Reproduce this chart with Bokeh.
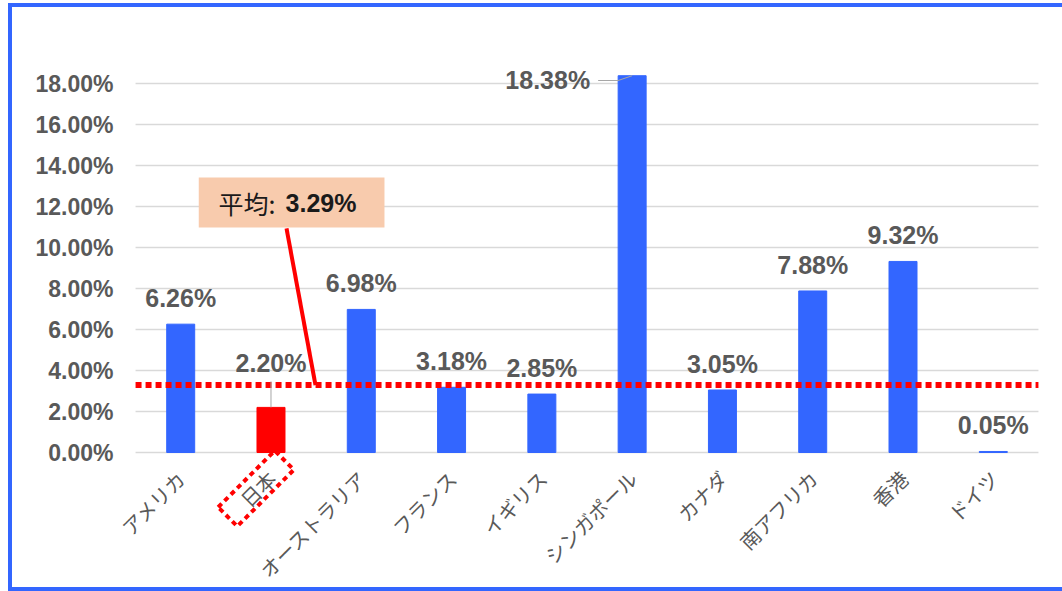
import math
from bokeh.plotting import figure
from bokeh.models import (FactorRange, Range1d, FixedTicker, NumeralTickFormatter,
                          ColumnDataSource)
from bokeh.core.properties import value
from bokeh.embed import file_html
from bokeh.resources import INLINE

# ---- data ----
categories = ["アメリカ", "日本", "オーストラリア", "フランス", "イギリス",
              "シンガポール", "カナダ", "南アフリカ", "香港", "ドイツ"]
rates_pct = [6.26, 2.20, 6.98, 3.18, 2.85, 18.38, 3.05, 7.88, 9.32, 0.05]
avg_pct = 3.29
highlight = "日本"
y_ticks_pct = [0, 2, 4, 6, 8, 10, 12, 14, 16, 18]

BLUE = "#3366FF"
RED = "#FF0000"
GREY = "#595959"
GRID = "#D9D9D9"

# ---- geometry ----
W, H = 1054, 588          # host size (canvas uses the same logical size)
BW = 4                    # border width
PAD_CAT = 0.2             # extra frame room either side (in categories)
N = len(categories)
px_cat = 90.3
ML, MT, MB = 105, 43, 0
FW = round(px_cat * (N + 2 * PAD_CAT))
MR = W - ML - FW
FH = H - MT - MB
PX_PER_PCT = 20.5
ZERO_FROM_TOP = 402       # px from frame top down to the 0 % line
y_top = ZERO_FROM_TOP / PX_PER_PCT / 100
y_bot = -(FH - ZERO_FROM_TOP) / PX_PER_PCT / 100

vals = [r / 100 for r in rates_pct]
labels = [f"{r:.2f}%" for r in rates_pct]
colors = [RED if c == highlight else BLUE for c in categories]
ticks = [t / 100 for t in y_ticks_pct]

p = figure(x_range=FactorRange(factors=categories, range_padding=PAD_CAT,
                               range_padding_units="absolute"),
           y_range=Range1d(y_bot, y_top), width=W, height=H,
           output_backend="svg", toolbar_location=None,
           min_border_left=ML, min_border_right=MR,
           min_border_top=MT, min_border_bottom=MB)
p.outline_line_color = None
p.background_fill_color = "white"
p.border_fill_color = "white"
p.styles = {"margin-left": "8px", "margin-top": "3px", "box-sizing": "border-box",
            "border-left": f"{BW}px solid #3366FF", "border-top": f"{BW}px solid #3366FF",
            "border-bottom": f"{BW}px solid #3366FF"}

p.xgrid.visible = False
p.ygrid.visible = False
p.yaxis.ticker = FixedTicker(ticks=ticks)
p.yaxis.formatter = NumeralTickFormatter(format="0.00%")
p.yaxis.axis_line_color = None
p.yaxis.major_tick_line_color = None
p.yaxis.major_tick_out = 0
p.yaxis.major_tick_in = 0
p.yaxis.minor_tick_line_color = None
p.yaxis.major_label_standoff = 4
p.yaxis.major_label_text_font = "Liberation Sans"
p.yaxis.major_label_text_font_style = "bold"
p.yaxis.major_label_text_font_size = "23px"
p.yaxis.major_label_text_color = GREY
p.xaxis.visible = False

# horizontal gridlines across the category span
p.segment(x0=[0] * len(ticks), x1=[N] * len(ticks), y0=ticks, y1=ticks,
          line_color=GRID, line_width=1.5)

src = ColumnDataSource(dict(cat=categories, val=vals, lab=labels, color=colors,
                            zero=[0.0] * N))
p.vbar(x="cat", top="val", width=0.31, color="color", source=src)

# category labels (rotated 45 deg, ending just below each bar)
p.text(x="cat", y="zero", text="cat", source=src, angle=math.pi / 4,
       text_align="right", text_baseline="middle", x_offset=1, y_offset=22,
       text_font=value("Noto Sans CJK JP"), text_font_size="20px", text_color=GREY)

# dotted red box (rotated 45 deg) around the 日本 label
ji = categories.index(highlight)
p.rect(x=[ji + 0.5 - 15 / px_cat], y=[-36 / PX_PER_PCT / 100], width=[80], height=[27],
       width_units="screen", height_units="screen", angle=math.pi / 4,
       fill_alpha=0, line_color=RED, line_width=4, line_dash="5 4")

# average line
p.segment(x0=[0], x1=[N], y0=[avg_pct / 100], y1=[avg_pct / 100],
          line_color=RED, line_width=6, line_dash="6 4")

# data labels
special = {highlight, "シンガポール"}
norm_idx = [i for i, c in enumerate(categories) if c not in special]
src_norm = ColumnDataSource(dict(cat=[categories[i] for i in norm_idx],
                                 val=[vals[i] for i in norm_idx],
                                 lab=[labels[i] for i in norm_idx]))
lab_kw = dict(text_font=value("Liberation Sans"), text_font_style="bold",
              text_font_size="25px", text_color=GREY, text_baseline="middle")
p.text(x="cat", y="val", text="lab", source=src_norm, text_align="center",
       y_offset=-26, **lab_kw)

# Japan label with leader
p.segment(x0=[highlight], y0=[vals[ji]], x1=[highlight],
          y1=[vals[ji] + 26 / PX_PER_PCT / 100], line_color="#A6A6A6", line_width=1)
p.text(x=[highlight], y=[vals[ji]], text=[labels[ji]], text_align="center",
       y_offset=-44, **lab_kw)

# Singapore label with leader
si = categories.index("シンガポール")
sc = si + 0.5
p.line(x=[sc - 34 / px_cat, sc - 14 / px_cat, sc],
       y=[vals[si] - 4.8 / PX_PER_PCT / 100, vals[si] - 4.8 / PX_PER_PCT / 100, vals[si]],
       line_color="#A6A6A6", line_width=1)
p.text(x=["シンガポール"], y=[vals[si]], text=[labels[si]], text_align="right",
       x_offset=-42, y_offset=4, **lab_kw)

# average callout
p.quad(left=[0.70], right=[2.757], bottom=[0.1098], top=[0.1341],
       fill_color="#F8CBAD", line_color=None)
p.segment(x0=[1.672], y0=[0.1093], x1=[1.993], y1=[avg_pct / 100],
          line_color=RED, line_width=4)
p.text(x=[0.919], y=[0.1215], text=["平均:"], text_align="left", text_baseline="middle",
       text_font=value("Noto Sans CJK JP"), text_font_size="25px", text_color="#1A1A1A")
p.text(x=[1.661], y=[0.1215], text=[f"{avg_pct:.2f}%"], text_align="left",
       text_baseline="middle", text_font=value("Liberation Sans"), text_font_style="bold",
       text_font_size="25px", text_color="#1A1A1A")

open("out.html", "w").write(file_html(p, INLINE))
